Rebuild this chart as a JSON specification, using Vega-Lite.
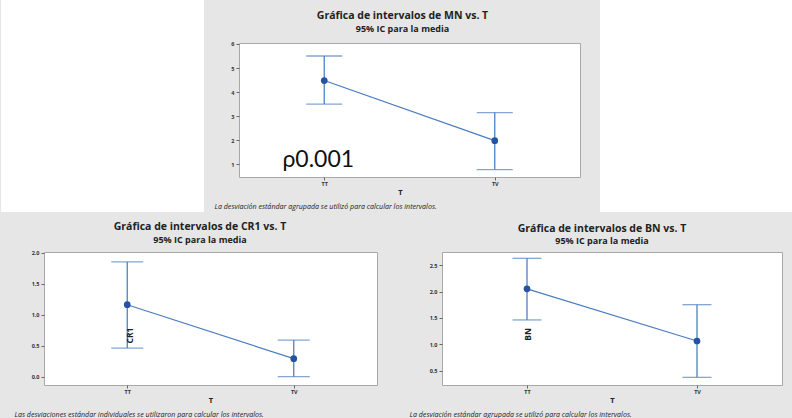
{
  "$schema": "https://vega.github.io/schema/vega-lite/v6.json",
  "background": "#e6e6e6",
  "padding": 0,
  "spacing": 9,
  "config": {
    "font": "Open Sans",
    "axis": {"labelFont": "Open Sans", "titleFont": "Open Sans", "labelFontWeight": "bold", "labelFontSize": 5.5, "labelColor": "#333333", "tickColor": "#666666", "tickSize": 3, "domain": false, "grid": false, "titleFontWeight": "bold", "titleColor": "#222222", "titleFontSize": 7.5, "labelOverlap": false},
    "title": {"font": "Open Sans", "fontSize": 10.5, "fontWeight": "bold", "color": "#222222", "subtitleFont": "Open Sans", "subtitleFontSize": 9, "subtitleFontWeight": "bold", "subtitleColor": "#222222", "frame": "group", "anchor": "middle", "subtitlePadding": 0}
  },
  "datasets": {
    "mn": [
      {"T": "TT", "mean": 4.48, "lo": 3.5, "hi": 5.5},
      {"T": "TV", "mean": 1.98, "lo": 0.78, "hi": 3.15}
    ],
    "cr1": [
      {"T": "TT", "mean": 1.16, "lo": 0.46, "hi": 1.85},
      {"T": "TV", "mean": 0.29, "lo": 0.0, "hi": 0.59}
    ],
    "bn": [
      {"T": "TT", "mean": 2.05, "lo": 1.46, "hi": 2.63},
      {"T": "TV", "mean": 1.06, "lo": 0.37, "hi": 1.75}
    ],
    "note": [{"label": "ρ0.001"}],
    "blank": [{"a": 0}]
  },
  "vconcat": [
    {
      "spacing": 9,
      "hconcat": [
        {
          "width": 117, "height": 126,
          "view": {"fill": "white", "stroke": "white", "strokeWidth": 86},
          "data": {"name": "blank"},
          "mark": {"type": "point", "opacity": 0},
          "encoding": {}
        },
        {
          "width": 341, "height": 134,
          "view": {"fill": "white", "stroke": "#a8a8a8"},
          "title": {"text": "Gráfica de intervalos de MN vs. T", "subtitle": "95% IC para la media", "dx": -7, "offset": 8},
          "data": {"name": "mn"},
          "resolve": {"axis": {"x": "independent", "y": "independent"}},
          "layer": [
            {
              "mark": {"type": "rule", "color": "#4f81bd", "strokeWidth": 1.3},
              "encoding": {
                "x": {"field": "T", "type": "nominal", "scale": {"type": "point", "padding": 0.5}, "axis": {"title": "T", "labelAngle": 0, "labelPadding": 1, "titlePadding": 2, "titleX": 161}},
                "y": {"field": "lo", "type": "quantitative", "scale": {"domain": [0.47, 6.04], "nice": false, "zero": false}, "axis": {"values": [1, 2, 3, 4, 5, 6], "format": "d", "title": null, "labelOverlap": false}},
                "y2": {"field": "hi"}
              }
            },
            {
              "mark": {"type": "tick", "color": "#4f81bd", "thickness": 1.3, "size": 36},
              "encoding": {
                "x": {"field": "T", "type": "nominal", "scale": {"type": "point", "padding": 0.5}, "axis": null},
                "y": {"field": "lo", "type": "quantitative", "axis": null}
              }
            },
            {
              "mark": {"type": "tick", "color": "#4f81bd", "thickness": 1.3, "size": 36},
              "encoding": {
                "x": {"field": "T", "type": "nominal", "scale": {"type": "point", "padding": 0.5}, "axis": null},
                "y": {"field": "hi", "type": "quantitative", "axis": null}
              }
            },
            {
              "mark": {"type": "line", "color": "#4a7cc0", "strokeWidth": 1.2},
              "encoding": {
                "x": {"field": "T", "type": "nominal", "scale": {"type": "point", "padding": 0.5}, "axis": null},
                "y": {"field": "mean", "type": "quantitative", "axis": null}
              }
            },
            {
              "mark": {"type": "circle", "color": "#2453a3", "opacity": 1, "size": 45},
              "encoding": {
                "x": {"field": "T", "type": "nominal", "scale": {"type": "point", "padding": 0.5}, "axis": {"orient": "bottom", "domain": false, "ticks": false, "labels": false, "title": "La desviación estándar agrupada se utilizó para calcular los intervalos.", "titleFontStyle": "italic", "titleFontWeight": "normal", "titleFontSize": 7.1, "titleX": -25, "titleY": 29, "titleAlign": "left", "titleBaseline": "middle", "titleColor": "#222222"}},
                "y": {"field": "mean", "type": "quantitative", "axis": {"orient": "right", "domain": false, "ticks": false, "labels": false, "title": null, "minExtent": 10, "maxExtent": 10}}
              }
            },
            {
              "data": {"name": "note"},
              "mark": {"type": "text", "fontSize": 23, "font": "Lato", "color": "#111111", "dx": -6},
              "encoding": {
                "x": {"datum": "TT", "type": "nominal", "scale": {"type": "point", "padding": 0.5}, "axis": null},
                "y": {"datum": 1.16, "type": "quantitative", "axis": null},
                "text": {"field": "label"}
              }
            }
          ]
        },
        {
          "width": 109, "height": 126,
          "view": {"fill": "white", "stroke": "white", "strokeWidth": 86},
          "data": {"name": "blank"},
          "mark": {"type": "point", "opacity": 0},
          "encoding": {}
        }
      ]
    },
    {
      "spacing": 18,
      "hconcat": [
        {
          "width": 333, "height": 133,
          "view": {"fill": "white", "stroke": "#a8a8a8"},
          "title": {"text": "Gráfica de intervalos de CR1 vs. T", "subtitle": "95% IC para la media", "dx": -10.5, "offset": 6},
          "data": {"name": "cr1"},
          "resolve": {"axis": {"x": "independent", "y": "independent"}},
          "layer": [
            {
              "mark": {"type": "rule", "color": "#4f81bd", "strokeWidth": 1.3},
              "encoding": {
                "x": {"field": "T", "type": "nominal", "scale": {"type": "point", "padding": 0.5}, "axis": {"title": "T", "labelAngle": 0, "labelPadding": 1, "titlePadding": 2}},
                "y": {"field": "lo", "type": "quantitative", "scale": {"domain": [-0.135, 2.01], "nice": false, "zero": false}, "axis": {"values": [0, 0.5, 1, 1.5, 2], "format": ".1f", "title": "CR1", "titleX": 85, "titleY": 83, "titleAlign": "center", "titleBaseline": "middle", "titleFontSize": 8.5, "minExtent": 43, "zindex": 1, "labelOverlap": false}},
                "y2": {"field": "hi"}
              }
            },
            {
              "mark": {"type": "tick", "color": "#4f81bd", "thickness": 1.3, "size": 32},
              "encoding": {
                "x": {"field": "T", "type": "nominal", "scale": {"type": "point", "padding": 0.5}, "axis": null},
                "y": {"field": "lo", "type": "quantitative", "axis": null}
              }
            },
            {
              "mark": {"type": "tick", "color": "#4f81bd", "thickness": 1.3, "size": 32},
              "encoding": {
                "x": {"field": "T", "type": "nominal", "scale": {"type": "point", "padding": 0.5}, "axis": null},
                "y": {"field": "hi", "type": "quantitative", "axis": null}
              }
            },
            {
              "mark": {"type": "line", "color": "#4a7cc0", "strokeWidth": 1.2},
              "encoding": {
                "x": {"field": "T", "type": "nominal", "scale": {"type": "point", "padding": 0.5}, "axis": null},
                "y": {"field": "mean", "type": "quantitative", "axis": null}
              }
            },
            {
              "mark": {"type": "circle", "color": "#2453a3", "opacity": 1, "size": 45},
              "encoding": {
                "x": {"field": "T", "type": "nominal", "scale": {"type": "point", "padding": 0.5}, "axis": {"orient": "bottom", "domain": false, "ticks": false, "labels": false, "title": "Las desviaciones estándar individuales se utilizaron para calcular los intervalos.", "titleFontStyle": "italic", "titleFontWeight": "normal", "titleFontSize": 7.1, "titleX": -30, "titleY": 29, "titleAlign": "left", "titleBaseline": "middle", "titleColor": "#222222"}},
                "y": {"field": "mean", "type": "quantitative", "axis": null}
              }
            }
          ]
        },
        {
          "width": 340, "height": 133,
          "view": {"fill": "white", "stroke": "#a8a8a8"},
          "title": {"text": "Gráfica de intervalos de BN vs. T", "subtitle": "95% IC para la media", "dx": -10, "offset": 6},
          "data": {"name": "bn"},
          "resolve": {"axis": {"x": "independent", "y": "independent"}},
          "layer": [
            {
              "mark": {"type": "rule", "color": "#4f81bd", "strokeWidth": 1.3},
              "encoding": {
                "x": {"field": "T", "type": "nominal", "scale": {"type": "point", "padding": 0.5}, "axis": {"title": "T", "labelAngle": 0, "labelPadding": 1, "titlePadding": 2}},
                "y": {"field": "lo", "type": "quantitative", "scale": {"domain": [0.225, 2.75], "nice": false, "zero": false}, "axis": {"values": [0.5, 1, 1.5, 2, 2.5], "format": ".1f", "title": "BN", "titleX": 85, "titleY": 82, "titleAlign": "center", "titleBaseline": "middle", "titleFontSize": 8.5, "minExtent": 45, "zindex": 1, "labelOverlap": false}},
                "y2": {"field": "hi"}
              }
            },
            {
              "mark": {"type": "tick", "color": "#4f81bd", "thickness": 1.3, "size": 29},
              "encoding": {
                "x": {"field": "T", "type": "nominal", "scale": {"type": "point", "padding": 0.5}, "axis": null},
                "y": {"field": "lo", "type": "quantitative", "axis": null}
              }
            },
            {
              "mark": {"type": "tick", "color": "#4f81bd", "thickness": 1.3, "size": 29},
              "encoding": {
                "x": {"field": "T", "type": "nominal", "scale": {"type": "point", "padding": 0.5}, "axis": null},
                "y": {"field": "hi", "type": "quantitative", "axis": null}
              }
            },
            {
              "mark": {"type": "line", "color": "#4a7cc0", "strokeWidth": 1.2},
              "encoding": {
                "x": {"field": "T", "type": "nominal", "scale": {"type": "point", "padding": 0.5}, "axis": null},
                "y": {"field": "mean", "type": "quantitative", "axis": null}
              }
            },
            {
              "mark": {"type": "circle", "color": "#2453a3", "opacity": 1, "size": 45},
              "encoding": {
                "x": {"field": "T", "type": "nominal", "scale": {"type": "point", "padding": 0.5}, "axis": {"orient": "bottom", "domain": false, "ticks": false, "labels": false, "title": "La desviación estándar agrupada se utilizó para calcular los intervalos.", "titleFontStyle": "italic", "titleFontWeight": "normal", "titleFontSize": 7.1, "titleX": -33, "titleY": 29, "titleAlign": "left", "titleBaseline": "middle", "titleColor": "#222222"}},
                "y": {"field": "mean", "type": "quantitative", "axis": null}
              }
            }
          ]
        }
      ]
    }
  ]
}
